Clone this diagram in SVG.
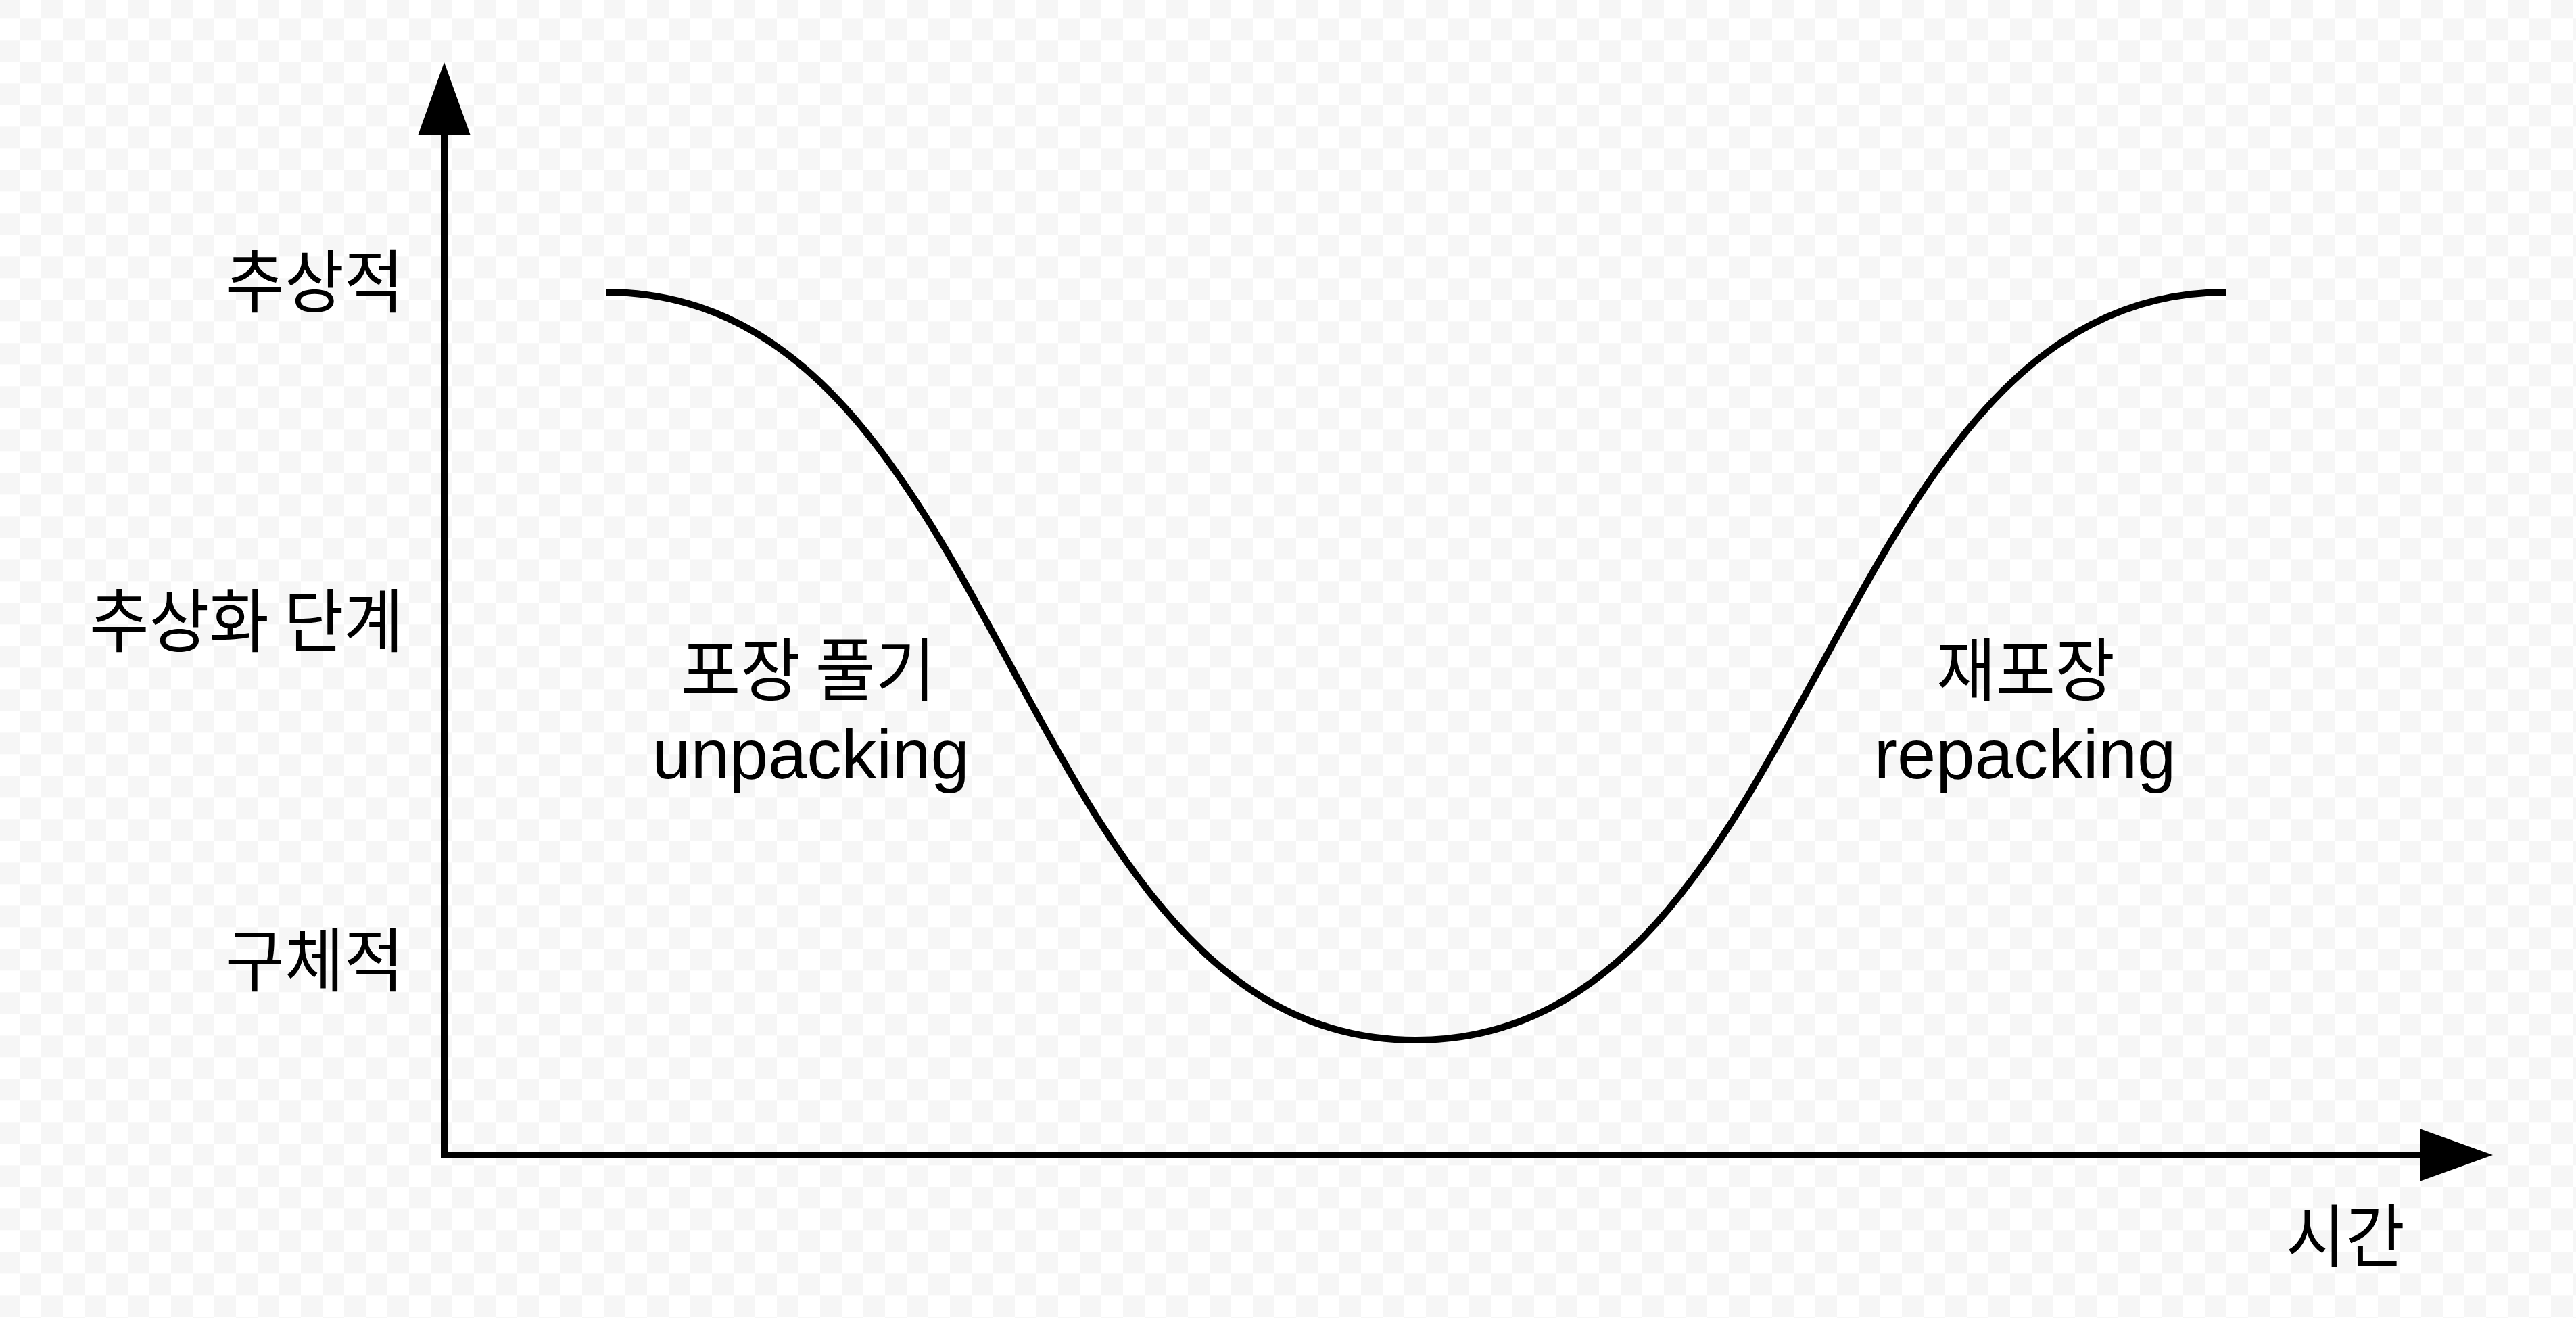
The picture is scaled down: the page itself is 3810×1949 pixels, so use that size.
<svg xmlns="http://www.w3.org/2000/svg" width="3810" height="1949" viewBox="0 0 3810 1949">
  <style>
    .ko { font-family: "Noto Sans CJK KR", "Noto Sans", sans-serif; font-size: 102px; fill: #000; }
    .en { font-family: "Liberation Sans", Arial, sans-serif; font-size: 103px; fill: #000; }
    .axis { stroke: #000; stroke-width: 10; fill: none; }
    .curve { stroke: #000; stroke-width: 10; fill: none; }
  </style>
  <defs>
    <pattern id="chk" x="-3" y="-4.7" width="64" height="64" patternUnits="userSpaceOnUse">
      <rect width="64" height="64" fill="#ffffff"/>
      <rect width="32" height="32" fill="#f6f6f6"/>
      <rect x="32" y="32" width="32" height="32" fill="#f6f6f6"/>
    </pattern>
    <marker id="arrow" markerUnits="userSpaceOnUse" markerWidth="107" markerHeight="77" refX="0" refY="38.5" orient="auto" overflow="visible">
      <path d="M0,0 L107,38.5 L0,77 Z" fill="#000"/>
    </marker>
  </defs>
  <rect id="background" x="0" y="0" width="3810" height="1949" fill="url(#chk)"/>

  <g id="connectors">
    <line id="y-axis" class="axis" x1="657" y1="1713" x2="657" y2="199" marker-end="url(#arrow)"/>
    <line id="x-axis" class="axis" x1="652" y1="1708" x2="3580" y2="1708" marker-end="url(#arrow)"/>
    <path id="abstraction-curve" class="curve" d="M896,432 C1495,432 1495,1538 2094,1538 C2693,1538 2693,432 3293,432"/>
  </g>

  <g id="label-abstract">
    <text class="ko" x="597" y="454" text-anchor="end" textLength="264" lengthAdjust="spacingAndGlyphs">추상적</text>
  </g>
  <g id="label-level">
    <text class="ko" x="597" y="956" text-anchor="end" textLength="465" lengthAdjust="spacingAndGlyphs">추상화 단계</text>
  </g>
  <g id="label-concrete">
    <text class="ko" x="597" y="1458" text-anchor="end" textLength="264" lengthAdjust="spacingAndGlyphs">구체적</text>
  </g>
  <g id="label-time">
    <text class="ko" x="3469" y="1866" text-anchor="middle" textLength="176" lengthAdjust="spacingAndGlyphs">시간</text>
  </g>
  <g id="label-unpacking">
    <text class="ko" x="1195" y="1028" text-anchor="middle" textLength="377" lengthAdjust="spacingAndGlyphs">포장 풀기</text>
    <text class="en" x="1199" y="1151" text-anchor="middle">unpacking</text>
  </g>
  <g id="label-repacking">
    <text class="ko" x="2996" y="1028" text-anchor="middle" textLength="264" lengthAdjust="spacingAndGlyphs">재포장</text>
    <text class="en" x="2995" y="1151" text-anchor="middle">repacking</text>
  </g>
</svg>
